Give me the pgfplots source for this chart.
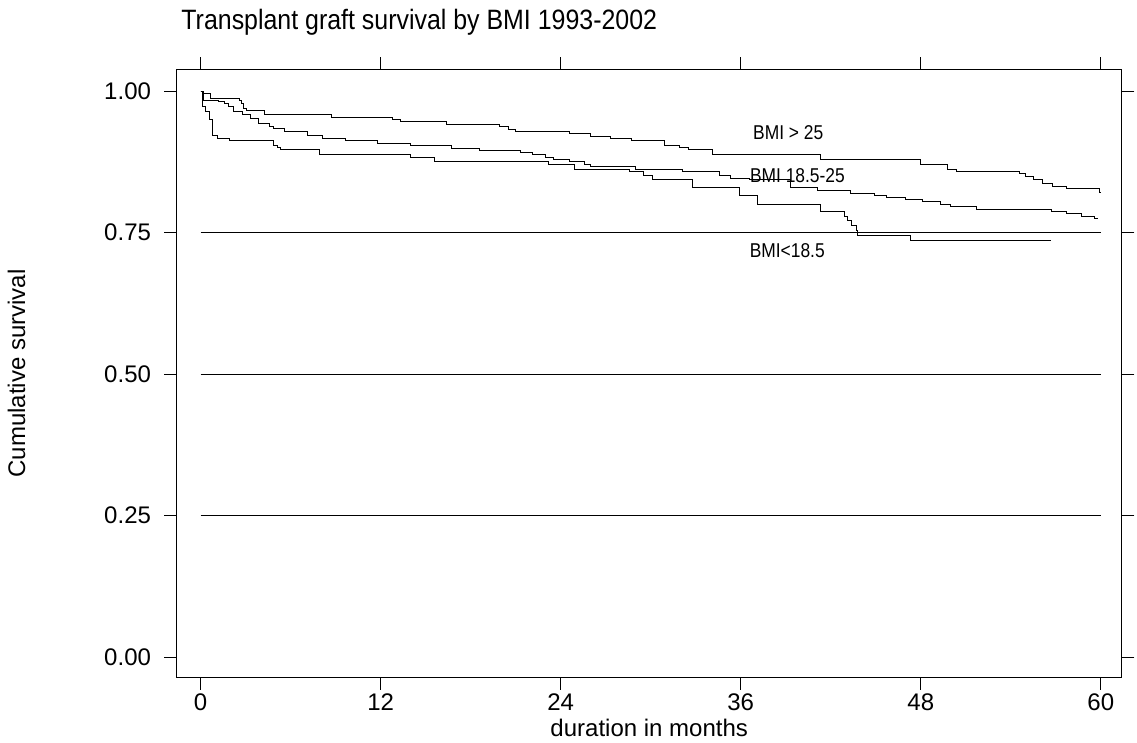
\documentclass[border=0pt]{standalone}
\usepackage{fontspec}
\setmainfont{Liberation Sans}
\newfontfamily\narrowfont[FakeStretch=0.89]{Liberation Sans}
\newfontfamily\labelfont[FakeStretch=0.87]{Liberation Sans}
\usepackage{pgfplots}
\pgfplotsset{compat=1.18}
\begin{document}
\begin{tikzpicture}
\begin{axis}[
  scale only axis, width=472.5pt, height=303.5pt,
  xmin=-1.6, xmax=61.4, ymin=-0.0353, ymax=1.0371,
  xtick={0,12,24,36,48,60},
  ytick={0,0.25,0.5,0.75,1},
  /pgf/number format/assume math mode=true,
  tick align=outside, major tick length=6.3pt,
  tick style={black, line width=0.5pt},
  axis line style={black, line width=0.5pt},
  ticklabel style={font=\fontsize{12}{14}\selectfont},
  yticklabel style={/pgf/number format/fixed, /pgf/number format/fixed zerofill, /pgf/number format/precision=2, xshift=-3pt},
  xticklabel style={yshift=1.3pt},
  title={Transplant graft survival by BMI 1993-2002},
  every axis title/.style={at={(axis description cs:0,1)}, anchor=base west, xshift=2.2pt, yshift=20pt, font=\narrowfont\fontsize{14}{16}\selectfont, inner sep=0pt},
  xlabel={duration in months},
  ylabel={Cumulative survival},
  every axis x label/.style={at={(axis description cs:0.5,0)}, anchor=base, yshift=-29.5pt, font=\fontsize{12}{14}\selectfont, inner sep=0pt},
  every axis y label/.style={at={(axis description cs:-0.1604,0.5)}, rotate=90, anchor=base, font=\fontsize{12}{14}\selectfont, inner sep=0pt},
]
\coordinate (bl) at (rel axis cs:0,0);
\coordinate (tr) at (rel axis cs:1,1);
% grid lines
\addplot[black, line width=0.5pt] coordinates {(0,0.25)(60,0.25)};
\addplot[black, line width=0.5pt] coordinates {(0,0.5)(60,0.5)};
\addplot[black, line width=0.5pt] coordinates {(0,0.75)(60,0.75)};
% BMI > 25
\addplot[const plot, black, line width=0.5pt] coordinates {
(0,1.0)(0.11,0.996)(0.67,0.987)(2.56,0.984)(2.71,0.978)(2.89,0.969)(3.07,0.966)(4.29,0.958)(8.71,0.9535)(12.78,0.950)(13.29,0.946)(16.4,0.9417)(19.9,0.937)(20.5,0.932)(21.0,0.928)(24.6,0.925)(26.0,0.9205)(27.3,0.916)(28.7,0.912)(30.9,0.9046)(31.9,0.9005)(32.5,0.8958)(34.1,0.887)(41.3,0.879)(47.95,0.8705)(49.8,0.8617)(50.4,0.858)(54.6,0.8546)(55.0,0.8486)(55.5,0.8445)(56.1,0.837)(56.8,0.832)(57.7,0.8286)(59.9,0.821)(60,0.821)};
% BMI 18.5-25
\addplot[const plot, black, line width=0.5pt] coordinates {
(0,1.0)(0.2,0.984)(1.22,0.981)(1.56,0.978)(1.89,0.972)(2.22,0.9635)(2.78,0.958)(3.33,0.952)(3.89,0.943)(4.56,0.938)(4.89,0.933)(5.56,0.928)(7.11,0.922)(8.11,0.9164)(9.67,0.912)(11.8,0.9076)(14.0,0.903)(16.7,0.899)(18.6,0.895)(21.3,0.891)(22.1,0.887)(23.0,0.883)(23.5,0.8786)(24.6,0.8746)(25.6,0.8705)(26.0,0.8663)(29.0,0.862)(32.1,0.8575)(34.6,0.8516)(35.3,0.8457)(36.6,0.843)(39.3,0.830)(41.1,0.825)(43.3,0.819)(44.9,0.816)(45.7,0.8115)(47.0,0.808)(48.1,0.804)(49.3,0.800)(50.0,0.7956)(51.7,0.7915)(56.7,0.787)(57.7,0.783)(58.7,0.779)(59.6,0.775)(59.8,0.775)};
% BMI < 18.5
\addplot[const plot, black, line width=0.5pt] coordinates {
(0,1.0)(0.11,0.972)(0.33,0.9635)(0.56,0.949)(0.78,0.922)(1.11,0.916)(1.93,0.912)(4.84,0.9046)(5.11,0.9005)(5.33,0.8958)(7.89,0.887)(14.0,0.883)(15.6,0.8746)(23.2,0.8705)(24.9,0.862)(28.6,0.858)(29.5,0.850)(30.1,0.843)(32.8,0.830)(35.9,0.816)(37.1,0.800)(41.3,0.787)(42.9,0.778)(43.1,0.771)(43.4,0.763)(43.7,0.754)(43.8,0.7456)(47.3,0.7367)(56.7,0.7367)};
\node[font=\labelfont\fontsize{10}{12}\selectfont, inner sep=0pt] at (axis cs:39.17,0.927) {BMI > 25};
\node[font=\labelfont\fontsize{10}{12}\selectfont, inner sep=0pt] at (axis cs:39.78,0.851) {BMI 18.5-25};
\node[font=\labelfont\fontsize{10}{12}\selectfont, inner sep=0pt] at (axis cs:39.1,0.7185) {BMI<18.5};
\end{axis}
\pgfresetboundingbox
\path ([shift={(-88.3pt,-32.5pt)}]bl) rectangle ([shift={(7.6pt,35pt)}]tr);
\end{tikzpicture}
\end{document}
